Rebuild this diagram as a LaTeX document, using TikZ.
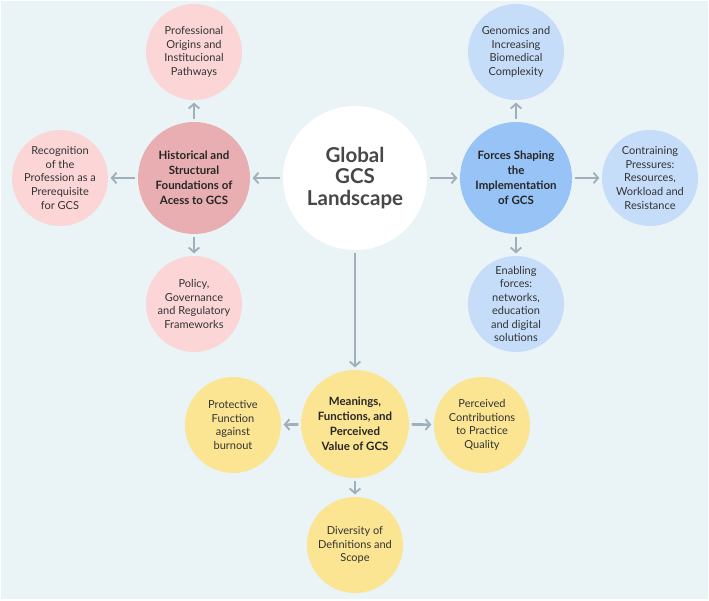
\documentclass[tikz,border=0pt]{standalone}
\usepackage{fontspec}
\setmainfont{Lato}
\usepackage{xcolor}
\usetikzlibrary{arrows.meta, positioning}
\definecolor{bgcolor}{HTML}{EAF4F6}
\definecolor{pinkleaf}{HTML}{FCD6D6}
\definecolor{pinkhub}{HTML}{E8AEB1}
\definecolor{blueleaf}{HTML}{C6DDFA}
\definecolor{bluehub}{HTML}{98C3F6}
\definecolor{yellowfill}{HTML}{FBE592}
\definecolor{arrowcolor}{HTML}{A0AFB8}
\definecolor{textcolor}{HTML}{333333}

\begin{document}
\begin{tikzpicture}[x=0.03cm, y=-0.03cm,
  every node/.style={circle, inner sep=0pt, align=center, text=textcolor},
  leaf/.style={minimum size=2.88cm, font=\fontsize{9.4}{11.6}\selectfont},
  hub/.style={minimum size=3.36cm, font=\bfseries\fontsize{9.8}{12.8}\selectfont, text=black!85},
  link/.style={-{Straight Barb[length=4pt, width=9pt, line width=1.6pt]}, line width=2.2pt,
    arrowcolor, shorten <=2pt, shorten >=2pt}]
  % background
  \useasboundingbox (0,0) rectangle (709,601);
  \fill[bgcolor] (1,1) rectangle (708,599);

  % centre
  \node[minimum size=4.32cm, fill=white, text=black!72,
    font=\bfseries\fontsize{17.5}{18.5}\selectfont] (global) at (355,178) {Global\\GCS\\Landscape};

  % historical foundations
  \node[hub, fill=pinkhub] (hist) at (194,178) {Historical and\\Structural\\Foundations of\\Acess to GCS};
  \node[leaf, fill=pinkleaf] (origins) at (194,52) {Professional\\Origins and\\Institucional\\Pathways};
  \node[leaf, fill=pinkleaf] (recog) at (60,178) {Recognition\\of the\\Profession as a\\Prerequisite\\for GCS};
  \node[leaf, fill=pinkleaf] (policy) at (194,304) {Policy,\\Governance\\and Regulatory\\Frameworks};

  % forces
  \node[hub, fill=bluehub] (forces) at (516,178) {Forces Shaping\\the\\Implementation\\of GCS};
  \node[leaf, fill=blueleaf] (genom) at (516,52) {Genomics and\\Increasing\\Biomedical\\Complexity};
  \node[leaf, fill=blueleaf] (press) at (650,178) {Contraining\\Pressures:\\Resources,\\Workload and\\Resistance};
  \node[leaf, fill=blueleaf] (enable) at (516,304) {Enabling\\forces:\\networks,\\education\\and digital\\solutions};

  % meanings
  \node[hub, minimum size=3.24cm, fill=yellowfill] (mean) at (355,424) {Meanings,\\Functions, and\\Perceived\\Value of GCS};
  \node[leaf, fill=yellowfill] (protect) at (233,425) {Protective\\Function\\against\\burnout};
  \node[leaf, fill=yellowfill] (quality) at (482,425) {Perceived\\Contributions\\to Practice\\Quality};
  \node[leaf, fill=yellowfill] (scope) at (355,545) {Diversity of\\Definitions and\\Scope};

  % links
  \draw[link] (global) -- (hist);
  \draw[link] (global) -- (forces);
  \draw[link] (global) -- (mean);
  \draw[link] (hist) -- (origins);
  \draw[link] (hist) -- (recog);
  \draw[link] (hist) -- (policy);
  \draw[link] (forces) -- (genom);
  \draw[link] (forces) -- (press);
  \draw[link] (forces) -- (enable);
  \draw[link] (mean) -- (protect);
  \draw[link] (mean) -- (quality);
  \draw[link] (mean) -- (scope);
\end{tikzpicture}
\end{document}
